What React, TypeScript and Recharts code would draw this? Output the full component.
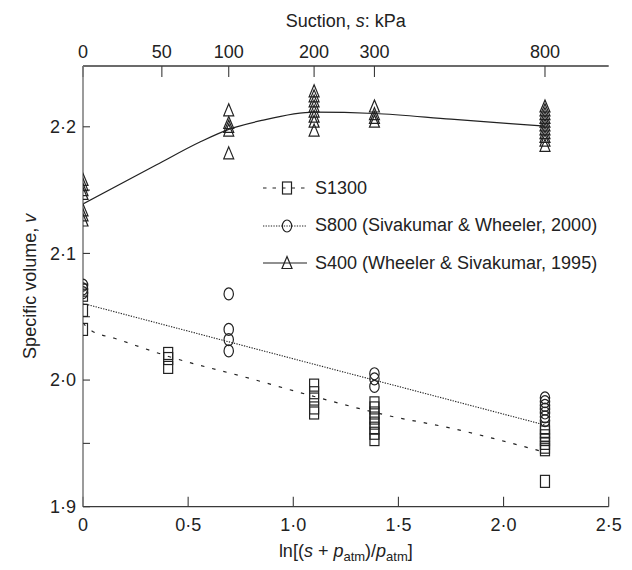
import React from 'react';
import { ComposedChart, Scatter, Line, XAxis, YAxis, Legend, Label } from 'recharts';

const FONT = '"Liberation Sans", Arial, Helvetica, sans-serif';
const INK = '#222';

// x positions of the test columns: ln[(s + patm)/patm] for s = 0, 50, 100, 200, 300, 800 kPa
const colX = [0, 0.405, 0.693, 1.099, 1.386, 2.197];

// S1300 (squares) specific volumes per column
const s1300Values: number[][] = [
  [2.071, 2.067, 2.055, 2.040],
  [2.021, 2.017, 2.010],
  [],
  [1.996, 1.990, 1.985, 1.978, 1.974],
  [1.982, 1.978, 1.974, 1.970, 1.966, 1.962, 1.958, 1.953],
  [1.962, 1.959, 1.956, 1.953, 1.950, 1.947, 1.945, 1.920],
];
// S800 (circles)
const s800Values: number[][] = [
  [2.075, 2.072, 2.069],
  [],
  [2.068, 2.040, 2.032, 2.023],
  [],
  [2.005, 2.001, 1.995],
  [1.986, 1.983, 1.980, 1.977, 1.974, 1.971, 1.968],
];
// S400 (triangles)
const s400Values: number[][] = [
  [2.158, 2.154, 2.150, 2.147, 2.134, 2.130, 2.126],
  [],
  [2.213, 2.203, 2.200, 2.197, 2.179],
  [2.228, 2.224, 2.220, 2.216, 2.212, 2.208, 2.204, 2.197],
  [2.216, 2.210, 2.207, 2.204],
  [2.216, 2.213, 2.210, 2.207, 2.204, 2.201, 2.198, 2.195, 2.192, 2.189, 2.185],
];

// fitted curves
const s1300CurveX = [0, 0.04, 0.15, 0.4, 0.8, 1.1, 1.45, 1.75, 2.197];
const s1300CurveY = [2.045, 2.039, 2.033, 2.019, 2.001, 1.987, 1.972, 1.962, 1.943];
const s800CurveX = [0, 2.197];
const s800CurveY = [2.0605, 1.9645];
const s400CurveX = [0, 0.35, 0.556, 0.693, 0.85, 1.1, 1.386, 1.75, 2.197];
const s400CurveY = [2.139, 2.170, 2.188, 2.198, 2.205, 2.2115, 2.2105, 2.206, 2.2005];

// axes
const lnTicks = [0, 0.5, 1.0, 1.5, 2.0, 2.5];
const vTicks = [1.9, 1.95, 2.0, 2.05, 2.1, 2.15, 2.2];
const vLabelled = [1.9, 2.0, 2.1, 2.2];
const suctionLabels = ['0', '50', '100', '200', '300', '800'];
const suctionPos = [0, 0.375, 0.693, 1.099, 1.386, 2.197];

const seriesNames = ['S1300', 'S800 (Sivakumar & Wheeler, 2000)', 'S400 (Wheeler & Sivakumar, 1995)'];

const toPoints = (vals: number[][]) =>
  vals.flatMap((col, i) => col.map((y) => ({ x: colX[i], y })));
const toCurve = (xs: number[], ys: number[]) => xs.map((x, i) => ({ x, y: ys[i] }));

const s1300Pts = toPoints(s1300Values);
const s800Pts = toPoints(s800Values);
const s400Pts = toPoints(s400Values);
const s1300Curve = toCurve(s1300CurveX, s1300CurveY);
const s800Curve = toCurve(s800CurveX, s800CurveY);
const s400Curve = toCurve(s400CurveX, s400CurveY);

const dotFmt = (v: number) => (v === 0 ? '0' : v.toFixed(1).replace('.', '\u00B7'));

const SW = 1.2;
const Square = ({ cx, cy }: any) => (
  <rect x={cx - 4.5} y={cy - 6} width={9} height={12} fill="none" stroke={INK} strokeWidth={SW} />
);
const Circle = ({ cx, cy }: any) => (
  <ellipse cx={cx} cy={cy} rx={4.7} ry={6} fill="none" stroke={INK} strokeWidth={SW} />
);
const Triangle = ({ cx, cy }: any) => (
  <path d={`M${cx},${cy - 6.5}L${cx + 5},${cy + 5.5}L${cx - 5},${cy + 5.5}Z`} fill="none" stroke={INK} strokeWidth={SW} />
);

const legendDefs = [
  { name: seriesNames[0], Shape: Square, dash: '3.5 6' },
  { name: seriesNames[1], Shape: Circle, dash: '1.3 1.3' },
  { name: seriesNames[2], Shape: Triangle, dash: undefined },
];

const renderLegend = () => (
  <div style={{ fontFamily: FONT, fontSize: 18, color: INK }}>
    {legendDefs.map((d) => (
      <div key={d.name} style={{ display: 'flex', alignItems: 'center', height: 37.5, whiteSpace: 'nowrap' }}>
        <svg width={44} height={20} style={{ marginRight: 8, overflow: 'visible' }}>
          <line x1={0} y1={10} x2={44} y2={10} stroke={INK} strokeWidth={1.1} strokeDasharray={d.dash} />
          <d.Shape cx={24} cy={10} />
        </svg>
        <span>{d.name}</span>
      </div>
    ))}
  </div>
);

const textStyle = { fontFamily: FONT, fontSize: 18, fill: INK };

const BottomTitle = ({ viewBox }: any) => {
  const cx = viewBox.x + viewBox.width / 2;
  return (
    <text x={cx} y={viewBox.y + 50.5} textAnchor="middle" style={textStyle}>
      ln[(<tspan fontStyle="italic">s</tspan> + <tspan fontStyle="italic">p</tspan>
      <tspan fontSize={13} dy={3.5}>atm</tspan>
      <tspan dy={-3.5}>)/</tspan>
      <tspan fontStyle="italic">p</tspan>
      <tspan fontSize={13} dy={3.5}>atm</tspan>
      <tspan dy={-3.5}>]</tspan>
    </text>
  );
};

const TopTitle = ({ viewBox }: any) => {
  const cx = viewBox.x + viewBox.width / 2;
  return (
    <text x={cx} y={26.5} textAnchor="middle" style={textStyle}>
      Suction, <tspan fontStyle="italic">s</tspan>: kPa
    </text>
  );
};

const LeftTitle = ({ viewBox }: any) => {
  const cy = viewBox.y + viewBox.height / 2;
  const x = 30;
  return (
    <text x={x} y={cy} dy="0.35em" textAnchor="middle" transform={`rotate(-90 ${x} ${cy})`} style={textStyle}>
      Specific volume, <tspan fontStyle="italic">v</tspan>
    </text>
  );
};

export default function App() {
  return (
    <div style={{ margin: -8 }}>
      <ComposedChart
        width={632}
        height={570}
        margin={{ top: 0, right: 23.3, bottom: 0, left: 0 }}
        style={{ fontFamily: FONT }}
      >
        <XAxis
          xAxisId="b"
          type="number"
          dataKey="x"
          domain={[0, 2.5]}
          ticks={lnTicks}
          tickFormatter={dotFmt}
          interval={0}
          height={63.3}
          orientation="bottom"
          axisLine={{ stroke: '#3a3a3a', strokeWidth: 1.3 }}
          tickLine={{ stroke: '#3a3a3a', strokeWidth: 1.1 }}
          tickSize={-10}
          tickMargin={21.2}
          tick={{ ...textStyle }}
          allowDataOverflow
        >
          <Label content={BottomTitle} />
        </XAxis>
        <XAxis
          xAxisId="t"
          type="number"
          dataKey="x"
          domain={[0, 2.5]}
          ticks={suctionPos}
          tickFormatter={(v: number) => suctionLabels[suctionPos.indexOf(v)] ?? ''}
          interval={0}
          height={66}
          orientation="top"
          axisLine={{ stroke: '#3a3a3a', strokeWidth: 1.3 }}
          tickLine={{ stroke: '#3a3a3a', strokeWidth: 1.1 }}
          tickSize={-11}
          tickMargin={18.8}
          tick={{ ...textStyle }}
          allowDataOverflow
        >
          <Label content={TopTitle} />
        </XAxis>
        <YAxis
          yAxisId="l"
          type="number"
          dataKey="y"
          domain={[1.9, 2.248]}
          ticks={vTicks}
          tickFormatter={(v: number) => (vLabelled.some((t) => Math.abs(t - v) < 1e-9) ? dotFmt(v) : '')}
          interval={0}
          width={83}
          axisLine={{ stroke: '#7a7a7a', strokeWidth: 1.5 }}
          tickLine={{ stroke: '#3a3a3a', strokeWidth: 1.1 }}
          tickSize={-7}
          tickMargin={14}
          tick={{ ...textStyle }}
          allowDataOverflow
        >
          <Label content={LeftTitle} />
        </YAxis>

        <Line xAxisId="b" yAxisId="l" data={s800Curve} dataKey="y" type="linear" stroke={INK} strokeWidth={1.1}
          strokeDasharray="1.3 1.3" dot={false} activeDot={false} isAnimationActive={false} legendType="none" />
        <Line xAxisId="b" yAxisId="l" data={s1300Curve} dataKey="y" type="monotone" stroke={INK} strokeWidth={1.2}
          strokeDasharray="3.5 8" dot={false} activeDot={false} isAnimationActive={false} legendType="none" />
        <Line xAxisId="b" yAxisId="l" data={s400Curve} dataKey="y" type="monotone" stroke={INK} strokeWidth={1.2}
          dot={false} activeDot={false} isAnimationActive={false} legendType="none" />

        <Scatter xAxisId="b" yAxisId="l" name={seriesNames[0]} data={s1300Pts} dataKey="y" shape={Square} isAnimationActive={false} />
        <Scatter xAxisId="b" yAxisId="l" name={seriesNames[1]} data={s800Pts} dataKey="y" shape={Circle} isAnimationActive={false} />
        <Scatter xAxisId="b" yAxisId="l" name={seriesNames[2]} data={s400Pts} dataKey="y" shape={Triangle} isAnimationActive={false} />

        <Legend
          layout="vertical"
          align="center"
          verticalAlign="middle"
          content={renderLegend}
          wrapperStyle={{ position: 'absolute', left: 263, top: 169.3, width: 360 }}
        />
      </ComposedChart>
    </div>
  );
}
